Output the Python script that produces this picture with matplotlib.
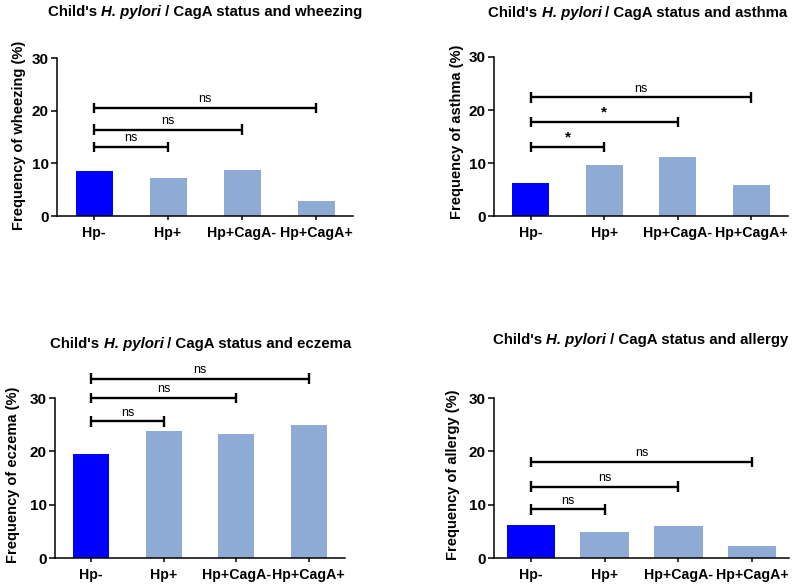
import matplotlib
matplotlib.use("Agg")
import matplotlib.pyplot as plt

plt.rcParams['font.family'] = ['Liberation Sans', 'DejaVu Sans']

groups = ["Hp-", "Hp+", "Hp+CagA-", "Hp+CagA+"]

wheezing = [8.6, 7.15, 8.75, 2.85]
asthma = [6.2, 9.55, 11.05, 5.85]
eczema = [19.5, 23.8, 23.3, 25.0]
allergy = [6.25, 4.95, 5.95, 2.2]

# comparisons: Hp- vs each other group
comp_to = [1, 2, 3]
wheezing_brk = [13.1, 16.4, 20.5]
asthma_brk = [13.0, 17.7, 22.4]
eczema_brk = [25.6, 30.0, 33.6]
allergy_brk = [9.1, 13.4, 18.0]
wheezing_sig = ["ns", "ns", "ns"]
asthma_sig = ["*", "*", "ns"]
eczema_sig = ["ns", "ns", "ns"]
allergy_sig = ["ns", "ns", "ns"]

outcomes = ["wheezing", "asthma", "eczema", "allergy"]

W, H = 800, 587
fig = plt.figure(figsize=(W / 100, H / 100), dpi=100)

# axes boxes in pixels: left, right, top, bottom
boxes = [(57, 353, 58, 216), (494, 788, 57, 216),
         (55, 345, 398, 558), (494, 789, 398, 558)]
bar_w = [0.5, 0.5, 0.5, 0.66]
ylab_pos = [(19, 135), (457, 132), (13, 475), (453, 475)]
title_pos = [(205, 19), (638, 20), (201, 351), (641, 347)]

BLUE = "#0000FF"
LIGHT = "#8EABD5"


def rich_title(ax, cx, ybot, parts, size=10.8):
    first = None
    prev = None
    for s, style in parts:
        if prev is None:
            t = fig.text(0, 1 - ybot / H, s, fontsize=size, fontweight='bold',
                         fontstyle=style, ha='left', va='bottom')
            first = t
        else:
            t = ax.annotate(s, xy=(1, 0), xycoords=prev, fontsize=size,
                            fontweight='bold', fontstyle=style,
                            ha='left', va='bottom', annotation_clip=False)
        prev = t
    return first, prev


data = [wheezing, asthma, eczema, allergy]
brks = [wheezing_brk, asthma_brk, eczema_brk, allergy_brk]
sigs = [wheezing_sig, asthma_sig, eczema_sig, allergy_sig]
titles = []

for i in range(4):
    l, r, t, b = boxes[i]
    ax = fig.add_axes([l / W, 1 - b / H, (r - l) / W, (b - t) / H])
    x = list(range(len(groups)))
    colors = [BLUE] + [LIGHT] * (len(groups) - 1)
    ax.bar(x, data[i], width=bar_w[i], color=colors, edgecolor='none')
    ax.set_xlim(-0.5, 3.5)
    ax.set_ylim(0, 30)
    ax.set_yticks([0, 10, 20, 30])
    ax.set_xticks(x)
    ax.set_xticklabels(groups, fontsize=10.2, fontweight='bold')
    for lab in ax.get_yticklabels():
        lab.set_fontsize(11)
        lab.set_fontweight('bold')
    ax.spines['top'].set_visible(False)
    ax.spines['right'].set_visible(False)
    ax.spines['left'].set_linewidth(1.1)
    ax.spines['bottom'].set_linewidth(1.1)
    ax.tick_params(axis='y', length=4, width=1.1, pad=2)
    ax.tick_params(axis='x', length=3, width=1.1, pad=4)

    cap = 1.0
    for j, k in enumerate(comp_to):
        yb = brks[i][j]
        kw = dict(color='black', lw=1.7, clip_on=False, solid_capstyle='butt')
        ax.plot([0, k], [yb, yb], **kw)
        ax.plot([0, 0], [yb - cap, yb + cap], **kw)
        ax.plot([k, k], [yb - cap, yb + cap], **kw)
        lab = sigs[i][j]
        ax.annotate(lab, xy=(k / 2, yb), xytext=(0, 4),
                    textcoords='offset points', ha='center', va='baseline',
                    fontsize=11 if lab == "*" else 9,
                    fontweight='bold' if lab == "*" else 'normal',
                    annotation_clip=False)

    lx, ly = ylab_pos[i]
    fig.text(lx / W, 1 - ly / H, "Frequency of %s (%%)" % outcomes[i],
             rotation=90, ha='center', va='center', fontsize=10.5,
             fontweight='bold')

    cx, cy = title_pos[i]
    parts = [("Child's ", 'normal'), ("H. pylori", 'italic'),
             (" / CagA status and %s" % outcomes[i], 'normal')]
    titles.append((cx,) + rich_title(ax, cx, cy, parts))

fig.canvas.draw()
for cx, first, last in titles:
    x0 = first.get_window_extent().x0
    x1 = last.get_window_extent().x1
    first.set_x((cx - (x1 - x0) / 2) / W)

fig.savefig("out.png", dpi=100)
